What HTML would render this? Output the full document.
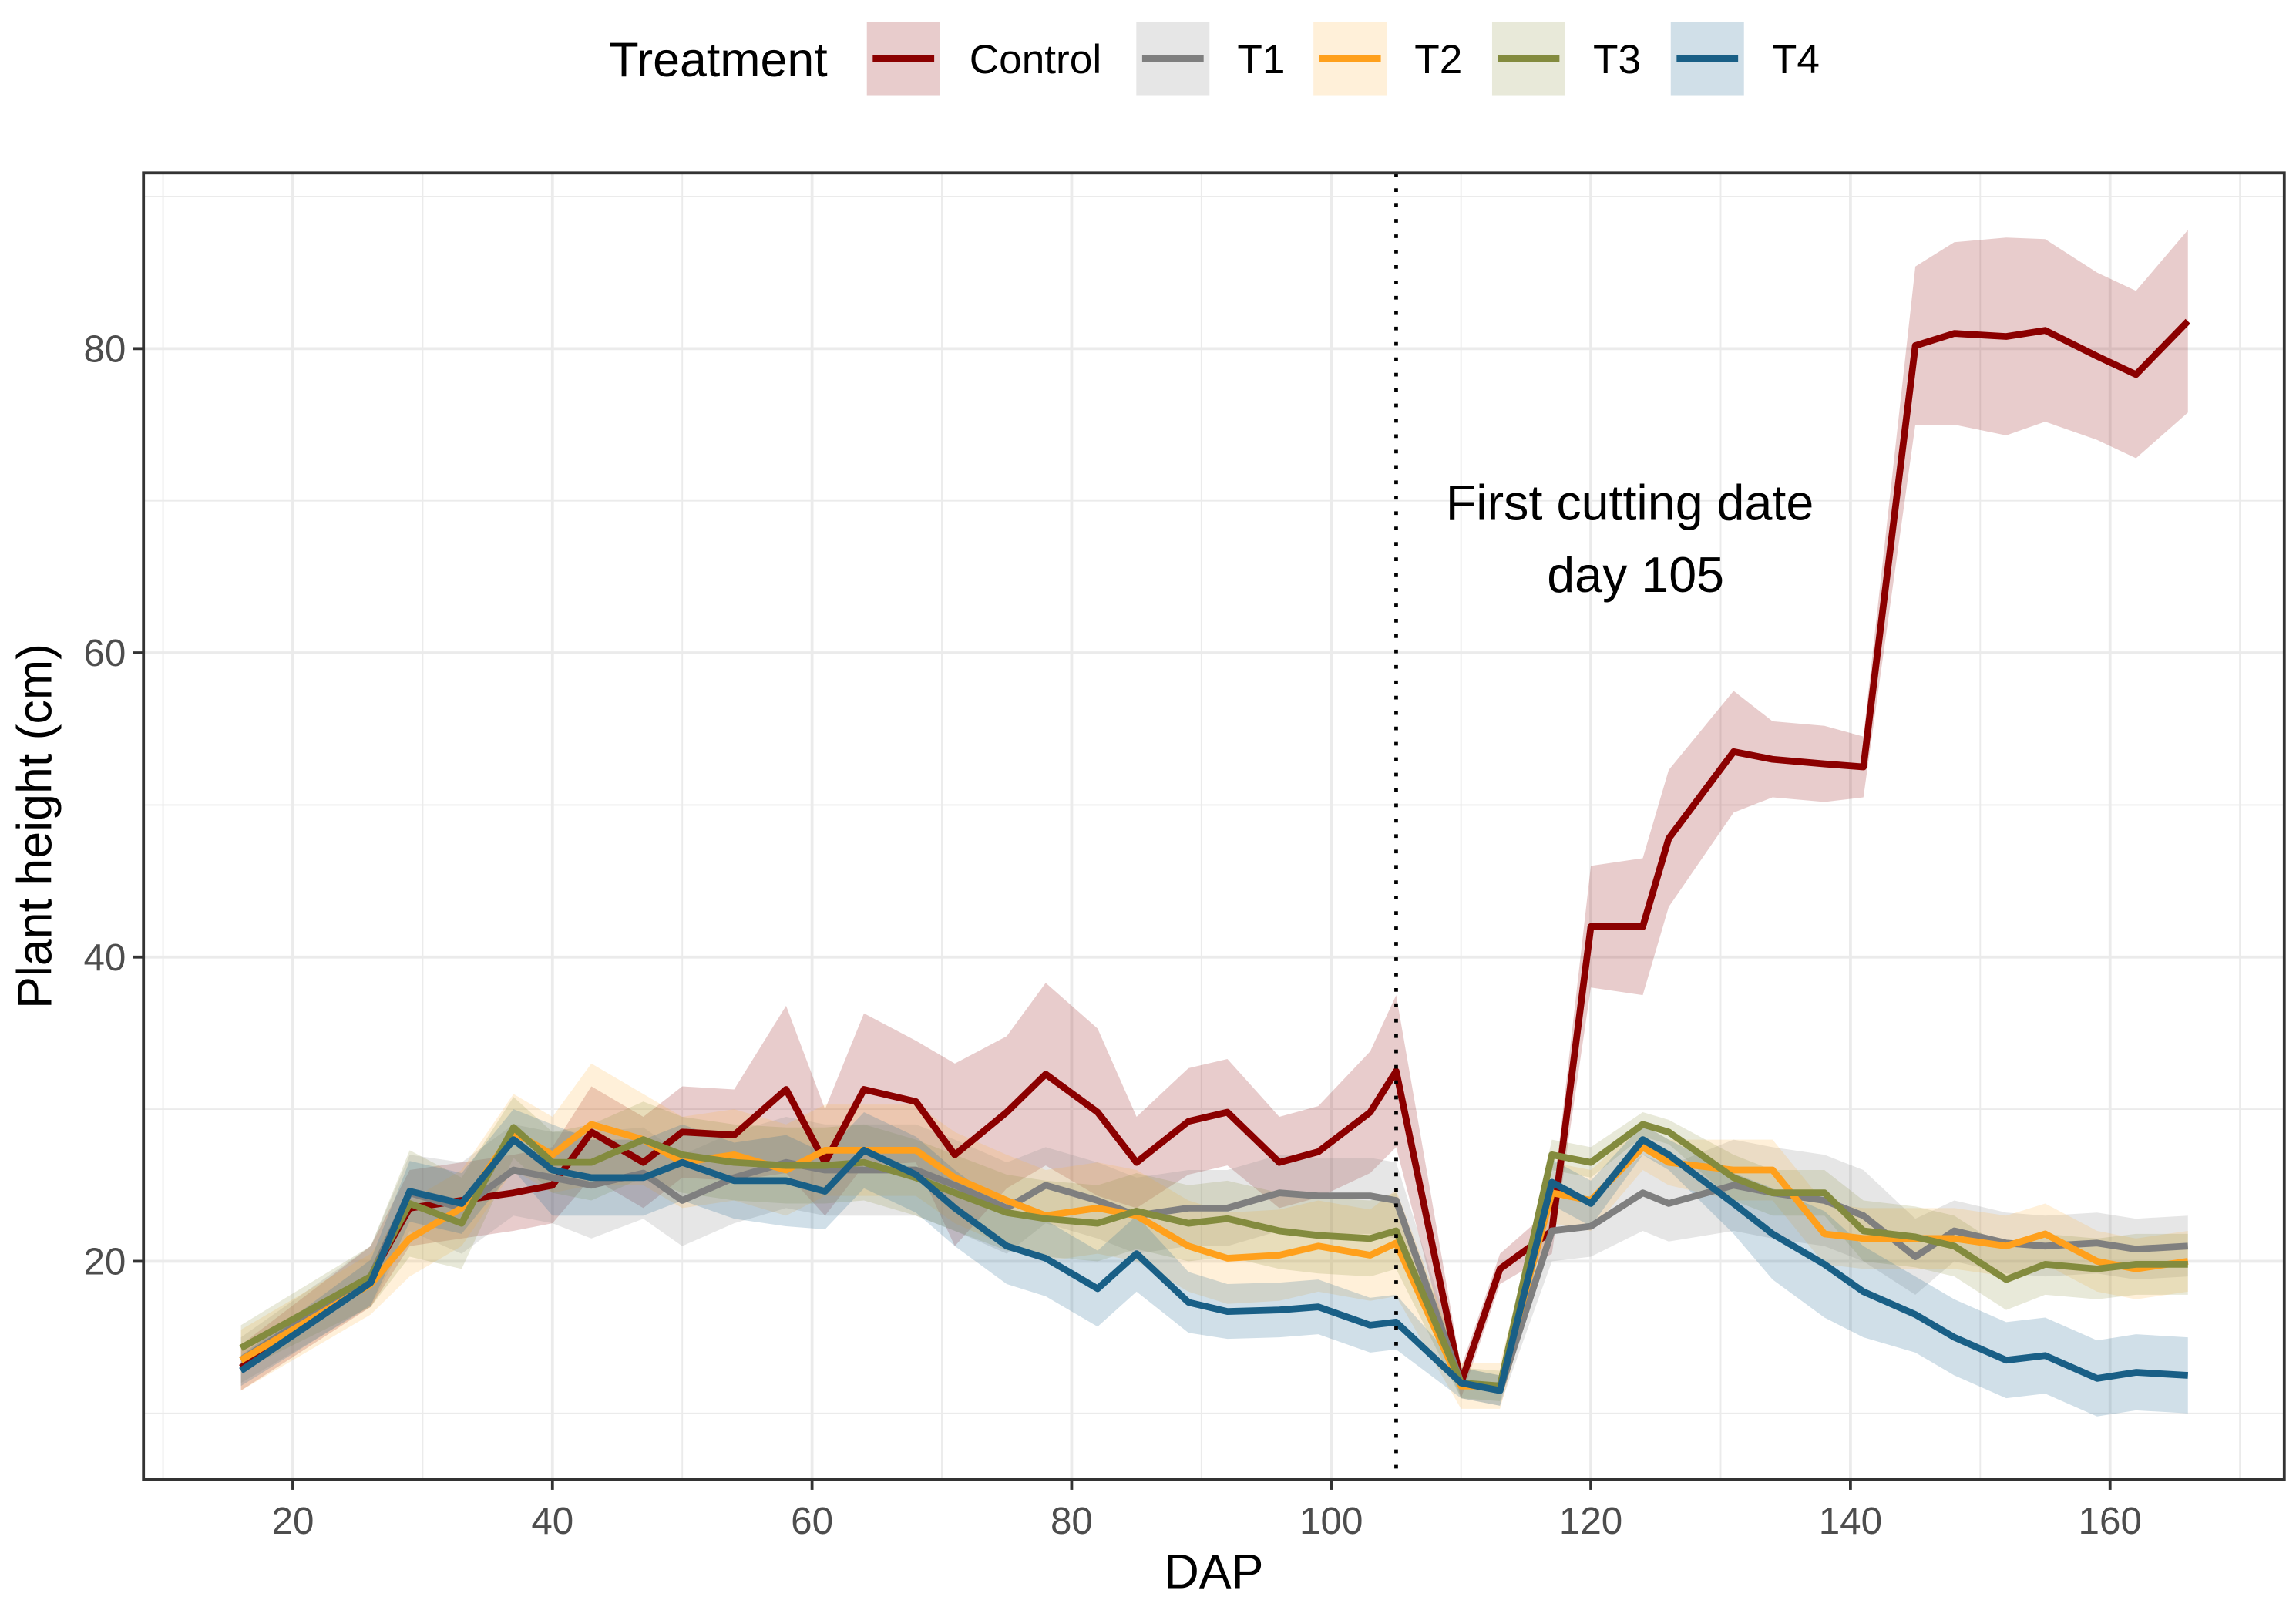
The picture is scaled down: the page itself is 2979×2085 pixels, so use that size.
<!DOCTYPE html>
<html><head><meta charset="utf-8"><style>
html,body{margin:0;padding:0;background:#fff;}
svg{display:block;}
text{font-family:"Liberation Sans",Arial,sans-serif;}
</style></head><body>
<svg id="chart" width="2979" height="2085" viewBox="0 0 1568 1097" preserveAspectRatio="none" xmlns="http://www.w3.org/2000/svg">
<g id="grid"></g>
<g id="ribbons"></g>
<g id="lines"></g>
<g id="axes"></g>
<g id="legend"></g>
</svg>
<script>
const days = [16,26,29,33,37,40,43,47,50,54,58,61,64,68,71,75,78,82,85,89,92,96,99,103,105,110,113,117,120,124,126,131,134,138,141,145,148,152,155,159,162,166];
const controlMean = [13,19,23.5,24,24.5,25,28.5,26.5,28.5,28.3,31.3,26.5,31.3,30.5,27,29.8,32.3,29.8,26.5,29.2,29.8,26.5,27.2,29.8,32.5,12,19.5,22,42,42,47.8,53.5,53,52.7,52.5,80.2,81,80.8,81.2,79.5,78.3,81.8];
const controlSpread = [1.5,2,2.5,2.5,2.5,2.5,3,3,3,3,5.5,3.5,5,4,6,5,6,5.5,3,3.5,3.5,3,3,4,5,1,1,1.5,4,4.5,4.5,4,2.5,2.5,2,5.2,6,6.5,6,5.5,5.5,6];
const t1Mean = [13.5,19,24.5,23.5,26,25.5,25,25.8,24,25.5,26.5,26,26,26,25,23.5,25,24,23,23.5,23.5,24.5,24.3,24.3,24,12,11.5,22,22.3,24.5,23.8,25,24.5,24,23,20.3,22,21.2,21,21.2,20.8,21];
const t1Spread = [1.5,2,2.5,3,3,3,3.5,3,3,3,3,3,3,3,3,3,2.5,2.5,2.5,2.5,2.5,2.5,2.5,2.5,2.5,1,1,2,2,2.5,2.5,3,3,3,3,2.5,2,2,2,2,2,2];
const t2Mean = [13.5,18.5,21.5,23.5,28.5,27,29,28,26.5,27,26,27.3,27.3,27.3,25.5,24,23,23.5,23,21,20.2,20.4,21,20.4,21.2,11.8,11.8,24.5,24,27.5,26.5,26,26,21.8,21.5,21.5,21.5,21,21.8,20,19.5,20];
const t2Spread = [2,2,2.5,2.5,2.5,2.5,4,3,3,3,3,3,3,3,3,3,3,3,3,3,3,3,3,3,3.5,1.5,1.5,2,2,1.5,1.5,2,2,2,2,2,2,2,2,2,2,2];
const t3Mean = [14.3,19,23.8,22.5,28.8,26.5,26.5,28,27,26.5,26.3,26.3,26.5,25.5,24.5,23.2,22.8,22.5,23.3,22.5,22.8,22,21.7,21.5,22,12,11.8,27,26.5,29,28.5,25.5,24.5,24.5,22,21.6,21,18.8,19.8,19.5,19.8,19.8];
const t3Spread = [1.5,2,3.5,3,2,2,2.5,2.5,2.5,2.5,2.5,2.5,2.5,2.5,2.5,2.5,2.5,2.5,2.5,2.5,2.5,2.5,2.5,2.5,2.5,1,1,1,1,0.8,0.8,1.5,1.5,1.5,2,2,2,2,2,2,2,2];
const t4Mean = [12.8,18.6,24.6,23.8,28,26,25.5,25.5,26.5,25.3,25.3,24.6,27.3,25.7,23.5,21,20.2,18.2,20.5,17.3,16.7,16.8,17,15.8,16,12,11.5,25.2,23.8,28,27,23.8,21.8,19.8,18,16.5,15,13.5,13.8,12.3,12.7,12.5];
const t4Spread = [1,1.5,2,2,2,3,2.5,2.5,2.5,2.5,3,2.5,2.5,2.5,2.5,2.5,2.5,2.5,2.5,2,1.8,1.8,1.8,1.8,1.8,1,1,1.5,1.5,1,1,2,3,3.5,3,2.5,2.5,2.5,2.5,2.5,2.5,2.5];
const seriesNames = ["Control","T1","T2","T3","T4"];
const xTicks = [20,40,60,80,100,120,140,160];
const yTicks = [20,40,60,80];
const cutDay = 105;

const NS="http://www.w3.org/2000/svg";
const PL=98,PR=1560,PT=118,PB=1010;
function X(v){return 200+(v-20)*(1241/140);}
function Y(v){return 861-(v-20)*(623/60);}
function mk(tag,attrs,parent){const e=document.createElementNS(NS,tag);for(const k in attrs)e.setAttribute(k,attrs[k]);parent.appendChild(e);return e;}
const grid=document.getElementById('grid'),rib=document.getElementById('ribbons'),lin=document.getElementById('lines'),ax=document.getElementById('axes'),leg=document.getElementById('legend');

mk('rect',{x:PL,y:PT,width:PR-PL,height:PB-PT,fill:'#fff'},grid);
for(let v=10;v<=170;v+=10){
  const g=mk('line',{x1:X(v),x2:X(v),y1:PT,y2:PB,stroke:'#ebebeb','stroke-width':v%20===0?2:1},grid);
  
  
}
for(let v=10;v<=90;v+=10){
  const g=mk('line',{x1:PL,x2:PR,y1:Y(v),y2:Y(v),stroke:'#ebebeb','stroke-width':v%20===0?2:1},grid);
  
  
}

const means=[controlMean,t1Mean,t2Mean,t3Mean,t4Mean];
const spreads=[controlSpread,t1Spread,t2Spread,t3Spread,t4Spread];
const lineCols=['#8b0000','#7f7f7f','#ffa01c','#838b3e','#195f86'];
const fillCols=['#8b0000','#8c8c8c','#ffb340','#8a9040','#2a6e98'];
const fillOp=[0.2,0.22,0.2,0.2,0.22];
for(let s=0;s<5;s++){
  let up='',lo='';
  days.forEach((d,i)=>{up+=(i?'L':'M')+X(d)+','+Y(means[s][i]+spreads[s][i]);});
  for(let i=days.length-1;i>=0;i--){lo+='L'+X(days[i])+','+Y(means[s][i]-spreads[s][i]);}
  const r=mk('path',{d:up+lo+'Z',fill:fillCols[s],'fill-opacity':fillOp[s]},rib);
  
  
}
for(let s=0;s<5;s++){
  const pts=days.map((d,i)=>X(d)+','+Y(means[s][i])).join(' ');
  const l=mk('polyline',{points:pts,fill:'none',stroke:lineCols[s],'stroke-width':4.6,'stroke-linejoin':'round'},lin);
  
  
}
const vl=mk('line',{x1:X(cutDay),x2:X(cutDay),y1:PT,y2:PB,stroke:'#000','stroke-width':2.5,'stroke-dasharray':'2.5,8'},lin);


const a1=mk('text',{x:1113,y:355,'font-size':34,'text-anchor':'middle',fill:'#000'},lin);a1.textContent='First cutting date';


const a2=mk('text',{x:1117,y:404,'font-size':34,'text-anchor':'middle',fill:'#000'},lin);a2.textContent='day 105';



const frame=mk('rect',{x:PL,y:PT,width:PR-PL,height:PB-PT,fill:'none',stroke:'#333','stroke-width':2},ax);


xTicks.forEach(v=>{
  mk('line',{x1:X(v),x2:X(v),y1:PB,y2:PB+7,stroke:'#333','stroke-width':2},ax);
  const t=mk('text',{x:X(v),y:PB+37,'font-size':26,'text-anchor':'middle',fill:'#4d4d4d'},ax);t.textContent=v;
  
  
});
yTicks.forEach(v=>{
  mk('line',{x1:PL-7,x2:PL,y1:Y(v),y2:Y(v),stroke:'#333','stroke-width':2},ax);
  const t=mk('text',{x:PL-12,y:Y(v)+9,'font-size':26,'text-anchor':'end',fill:'#4d4d4d'},ax);t.textContent=v;
  
  
});
const xt=mk('text',{x:829,y:1084,'font-size':33,'text-anchor':'middle',fill:'#000'},ax);xt.textContent='DAP';


const yt=mk('text',{x:0,y:0,'font-size':33,'text-anchor':'middle',fill:'#000',transform:'translate(35,564) rotate(-90)'},ax);yt.textContent='Plant height (cm)';



const lt=mk('text',{x:416,y:52,'font-size':33,fill:'#000'},leg);lt.textContent='Treatment';


const keyX=[592,776,897,1019,1141],labX=[662,845,966,1088,1210];
for(let s=0;s<5;s++){
  const g=mk('g',{},leg);
  
  
  mk('rect',{x:keyX[s],y:15,width:50,height:50,fill:fillCols[s],'fill-opacity':fillOp[s]},g);
  mk('line',{x1:keyX[s]+4,x2:keyX[s]+46,y1:40,y2:40,stroke:lineCols[s],'stroke-width':5},g);
  const t=mk('text',{x:labX[s],y:50,'font-size':28,fill:'#000'},g);t.textContent=seriesNames[s];
}
</script>
</body></html>
